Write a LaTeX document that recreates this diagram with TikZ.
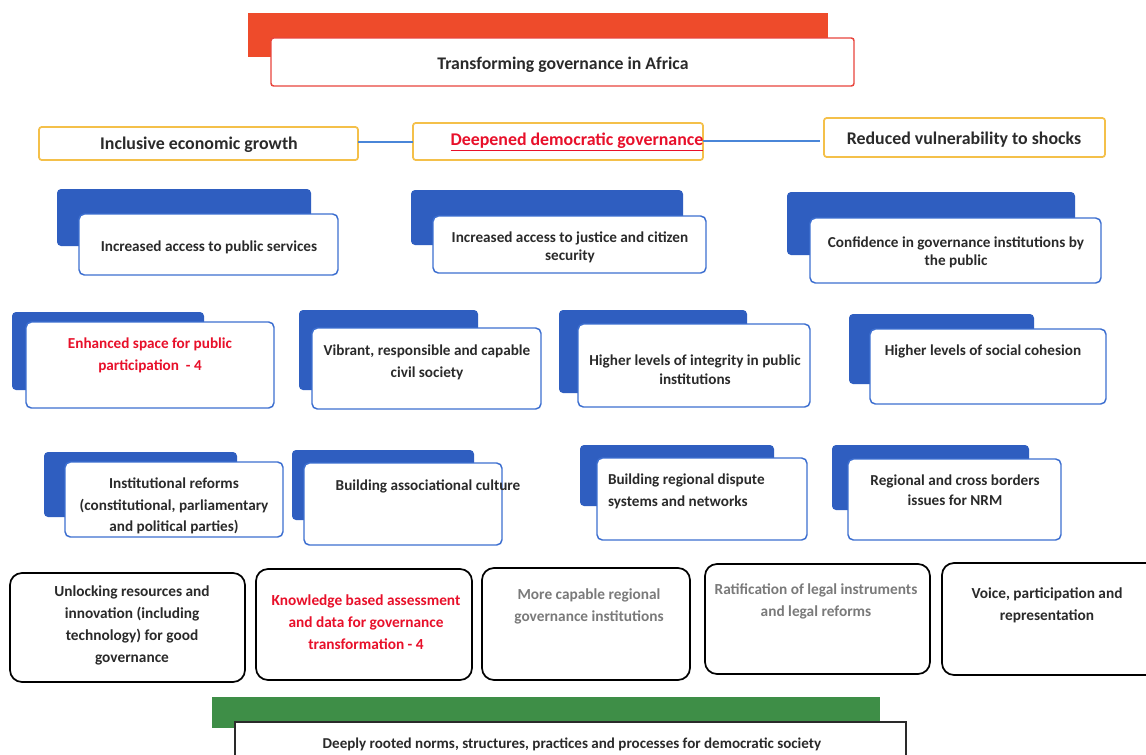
\documentclass[tikz,border=0pt]{standalone}
\usepackage{fontspec}
\setmainfont{Carlito}
\usetikzlibrary{fit}
\definecolor{redbar}{HTML}{EE4B2B}
\definecolor{redline}{HTML}{E8453C}
\definecolor{yelline}{HTML}{F4C04A}
\definecolor{shblue}{HTML}{2F5EC0}
\definecolor{frblue}{HTML}{3D6FD0}
\definecolor{conblue}{HTML}{4A86D8}
\definecolor{greenbar}{HTML}{3E8E47}
\definecolor{txt}{HTML}{2A2A2A}
\definecolor{redtxt}{HTML}{E8102A}
\definecolor{graytxt}{HTML}{7A7A7A}
\begin{document}
\begin{tikzpicture}[x=0.75pt,y=-0.75pt,
  every node/.style={inner sep=0pt, outer sep=0pt},
  back/.style={fill=shblue, rounded corners=3pt},
  front/.style={draw=frblue, fill=white, line width=1.1pt, rounded corners=4pt},
  goal/.style={draw=yelline, fill=white, line width=1.3pt, rounded corners=2pt},
  outbox/.style={draw=black, fill=white, line width=1.3pt, rounded corners=9pt},
  conn/.style={draw=conblue, line width=1.5pt},
  lbl/.style={text=txt, font=\bfseries\fontsize{11.4}{16.5}\selectfont, align=center},
  lblb/.style={text=txt, font=\bfseries\fontsize{11.5}{16.5}\selectfont, align=center},
  lblg/.style={text=txt, font=\bfseries\fontsize{13.4}{15}\selectfont, align=center}
]
\useasboundingbox[fill=white] (0,0) rectangle (1146,754);

% Goals and connectors
\node[goal, fit={(39,127)(358,160)}] (g1) {};
\node[goal, fit={(413,123)(703,160)}] (g2) {};
\node[goal, fit={(824,118)(1105,157)}] (g3) {};
\draw[conn] ([yshift=1.5pt]g1.east) -- ([yshift=1.5pt]g1.east -| g2.west);
\draw[conn] ([yshift=0.5pt]g2.east) -- ([xshift=-3pt,yshift=0.5pt]g3.west |- g2.east);

% Title
\node[fill=redbar, fit={(248,13)(828,57)}] (titleback) {};
\node[draw=redline, fill=white, line width=1.1pt, rounded corners=2pt, fit={(271,38)(854,86)}] (titlebox) {};
\node[text=txt, font=\bfseries\fontsize{13.3}{15}\selectfont] (title) at (563,65) {Transforming governance in Africa};

\node[lblg] (g1t) at (199,145) {Inclusive economic growth};
\node[lblg, text=redtxt] (g2t) at (577,142) {\underline{Deepened democratic governance}};
\node[lblg] (g3t) at (964,140) {Reduced vulnerability to shocks};

% Row 3
\node[back, fit={(57,189)(311,246)}] (a1b) {};
\node[front, fit={(79,214)(338,275)}] (a1) {};
\node[lbl] (a1t) at (209,247) {Increased access to public services};
\node[back, fit={(411,190)(683,245)}] (a2b) {};
\node[front, fit={(433,216)(706,273)}] (a2) {};
\node[lbl, font=\bfseries\fontsize{11.4}{13.5}\selectfont] (a2t) at (570,247) {Increased access to justice and citizen\\security};
\node[back, fit={(787,192)(1075,255)}] (a3b) {};
\node[front, fit={(810,218)(1101,283)}] (a3) {};
\node[lbl, font=\bfseries\fontsize{11.4}{13.5}\selectfont] (a3t) at (956,252) {Confidence in governance institutions by\\the public};

% Row 4
\node[back, fit={(12,312)(204,390)}] (b1b) {};
\node[front, fit={(26,322)(274,408)}] (b1) {};
\node[lbl, text=redtxt] (b1t) at (150,355) {Enhanced space for public\\participation\ \ - 4};
\node[back, fit={(299,310)(478,390)}] (b2b) {};
\node[front, fit={(312,328)(541,409)}] (b2) {};
\node[lbl] (b2t) at (427,362) {Vibrant, responsible and capable\\civil society};
\node[back, fit={(559,310)(747,393)}] (b3b) {};
\node[front, fit={(578,324)(810,407)}] (b3) {};
\node[lbl, font=\bfseries\fontsize{11.4}{14}\selectfont] (b3t) at (695,370) {Higher levels of integrity in public\\institutions};
\node[back, fit={(849,314)(1034,384)}] (b4b) {};
\node[front, fit={(870,329)(1106,404)}] (b4) {};
\node[lbl] (b4t) at (983,351) {Higher levels of social cohesion};

% Row 5
\node[back, fit={(44,452)(237,517)}] (c1b) {};
\node[front, fit={(65,462)(283,537)}] (c1) {};
\node[lbl, font=\bfseries\fontsize{11.4}{16}\selectfont] (c1t) at (174,506) {Institutional reforms\\(constitutional, parliamentary\\and political parties)};
\node[back, fit={(292,450)(474,520)}] (c2b) {};
\node[front, fit={(304,463)(502,545)}] (c2) {};
\node[lbl] (c2t) at (428,486) {Building associational culture};
\node[back, fit={(580,445)(774,506)}] (c3b) {};
\node[front, fit={(597,458)(807,540)}] (c3) {};
\node[lbl, align=left, anchor=west] (c3t) at (608,491) {Building regional dispute\\systems and networks};
\node[back, fit={(832,445)(1029,510)}] (c4b) {};
\node[front, fit={(848,459)(1061,540)}] (c4) {};
\node[lbl, font=\bfseries\fontsize{11.4}{15}\selectfont] (c4t) at (955,490) {Regional and cross borders\\issues for NRM};

% Row 6
\node[outbox, fit={(10,573)(245,682)}] (d1) {};
\node[lblb] (d1t) at (132,625) {Unlocking resources and\\innovation (including\\technology) for good\\governance};
\node[outbox, fit={(256,569)(472,680)}] (d2) {};
\node[lblb, text=redtxt] (d2t) at (366,622) {Knowledge based assessment\\and data for governance\\transformation - 4};
\node[outbox, fit={(482,568)(690,680)}] (d3) {};
\node[lblb, text=graytxt] (d3t) at (589,606) {More capable regional\\governance institutions};
\node[outbox, fit={(705,564)(930,674)}] (d4) {};
\node[lblb, text=graytxt] (d4t) at (816,601) {Ratification of legal instruments\\and legal reforms};
\node[outbox, fit={(942,563)(1160,675)}] (d5) {};
\node[lblb] (d5t) at (1047,605) {Voice, participation and\\representation};

% Bottom
\node[fill=greenbar, fit={(212,697)(880,728)}] (gb) {};
\node[draw=txt, fill=white, line width=0.8pt, fit={(235,722)(906,770)}] (bot) {};
\node[lbl, font=\bfseries\fontsize{11.3}{13}\selectfont] (bott) at (572,744) {Deeply rooted norms, structures, practices and processes for democratic society};
\end{tikzpicture}
\end{document}
